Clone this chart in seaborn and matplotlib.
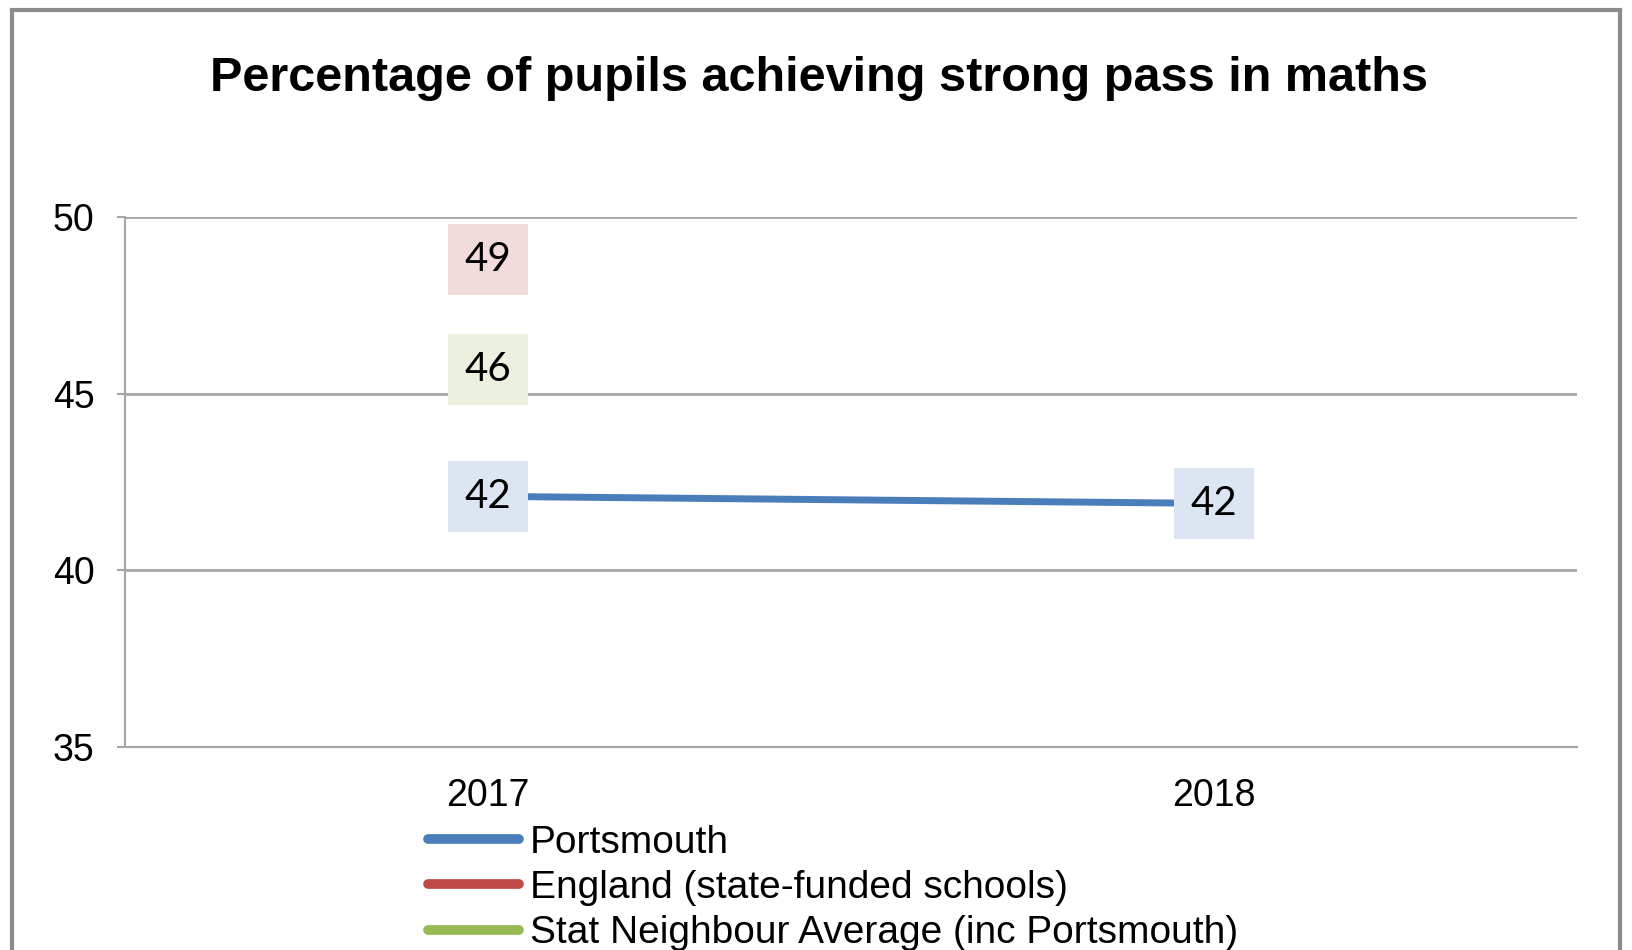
import numpy as np
import pandas as pd
import seaborn as sns
import matplotlib.pyplot as plt
from matplotlib.lines import Line2D
from matplotlib.patches import Rectangle

# data
years = ["2017", "2018"]
portsmouth = [42.1, 41.9]
england = [48.8, np.nan]
stat_neighbour = [45.7, np.nan]
series_names = ["Portsmouth", "England (state-funded schools)", "Stat Neighbour Average (inc Portsmouth)"]
line_colors = ["#4a7ebb", "#be4b48", "#98b954"]
label_fills = ["#dce6f2", "#f2dcdb", "#ebf1de"]
y_ticks = [35, 40, 45, 50]

sns.set_theme(style="white")
plt.rcParams['font.family'] = ['Liberation Sans', 'DejaVu Sans']
plt.rcParams['text.color'] = 'black'
plt.rcParams['xtick.color'] = 'black'
plt.rcParams['ytick.color'] = 'black'

df = pd.DataFrame({
    "Year": years * 3,
    "Value": portsmouth + england + stat_neighbour,
    "Series": [s for s in series_names for _ in years],
})

fig = plt.figure(figsize=(16.32, 9.5), dpi=100)
ax = fig.add_axes([0.0766, 0.2137, 0.8897, 0.5574])

sns.lineplot(data=df, x="Year", y="Value", hue="Series", hue_order=series_names,
             palette=line_colors, linewidth=5, legend=False, ax=ax, sort=False)

ax.set_xlim(-0.5, 1.5)
ax.set_ylim(35, 50)
ax.set_yticks(y_ticks)
ax.set_yticklabels([str(t) for t in y_ticks], fontsize=27)
ax.set_xlabel("")
ax.set_ylabel("")
for t in y_ticks[1:]:
    ax.axhline(t, color="#a6a6a6", lw=2, zorder=0)

# category boundaries as major ticks, labels at centres as minor ticks
ax.set_xticks([-0.5, 0.5, 1.5])
ax.set_xticklabels(["", "", ""])
ax.set_xticks([0, 1], minor=True)
ax.set_xticklabels(years, minor=True, fontsize=27)
ax.tick_params(axis="x", which="major", length=8, width=1.5, color="#a6a6a6", direction="out")
ax.tick_params(axis="x", which="minor", length=0, pad=22)
ax.tick_params(axis="y", length=6, width=1.5, color="#a6a6a6", direction="out", pad=16, left=True)

for side in ["top", "right"]:
    ax.spines[side].set_visible(False)
for side in ["left", "bottom"]:
    ax.spines[side].set_color("#a6a6a6")
    ax.spines[side].set_linewidth(1.5)

# data labels
all_vals = [portsmouth, england, stat_neighbour]
for vals, fill in zip(all_vals, label_fills):
    for i, v in enumerate(vals):
        if np.isnan(v):
            continue
        ax.text(i, v, f"{v:.0f}", ha="center", va="center", fontsize=29,
                family=["Lato", "DejaVu Sans"], zorder=5,
                bbox=dict(boxstyle="square,pad=0.42", fc=fill, ec="none"))

fig.suptitle("Percentage of pupils achieving strong pass in maths",
             x=0.502, y=0.917, va="center", fontsize=35, fontweight="bold")

handles = [Line2D([], [], color=c, lw=7, solid_capstyle="round") for c in line_colors]
fig.legend(handles, series_names, loc="upper left", bbox_to_anchor=(0.262, 0.132),
           frameon=False, fontsize=28, handlelength=2.35, handletextpad=0.28,
           labelspacing=0.24, borderpad=0, borderaxespad=0)

fig.patches.append(Rectangle((0.0075, -0.05), 0.985, 1.04, transform=fig.transFigure,
                             fill=False, ec="#8c8c8c", lw=3))

fig.savefig("out.png", dpi=100)
